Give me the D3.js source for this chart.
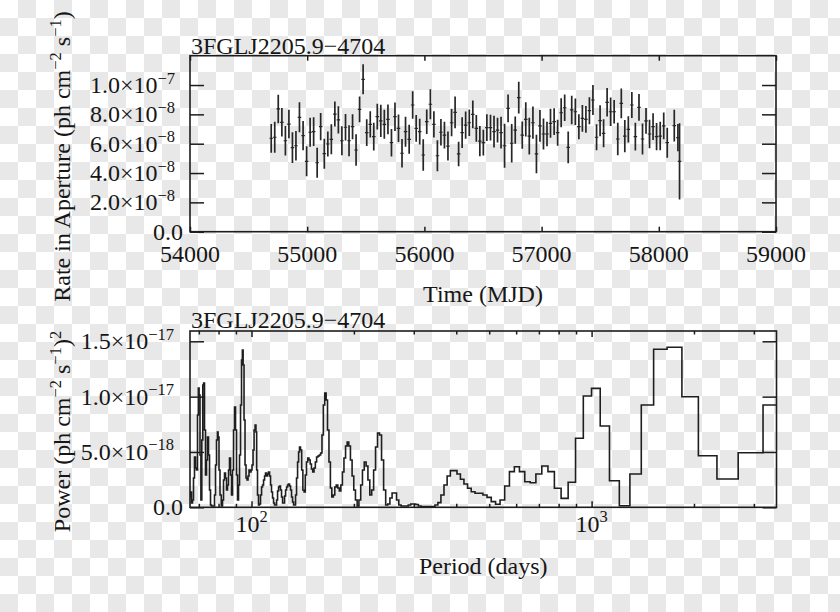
<!DOCTYPE html>
<html>
<head>
<meta charset="utf-8">
<script src="https://cdn.jsdelivr.net/npm/d3@7/dist/d3.min.js"></script>
<style>
html,body{margin:0;padding:0;background:#fff;}
svg text{font-family:"Liberation Serif","Times New Roman",Times,serif;fill:#161616;white-space:pre;}
</style>
</head>
<body>
<svg id="chart" width="840" height="612"></svg>
<script>
// ---------------- DATA ----------------
const sourceName = "3FGLJ2205.9\u22124704";

// Light curve: bin centre (MJD), rate (units of 1e-8 ph cm^-2 s^-1), 1-sigma error (same units)
const mjd = [54693,54723,54753,54784,54814,54844,54874,54904,54934,54965,54995,55025,55055,55085,55115,55146,55176,55206,55236,55266,55296,55327,55357,55387,55417,55447,55477,55508,55538,55568,55598,55628,55658,55689,55719,55749,55779,55809,55839,55870,55900,55930,55960,55990,56020,56051,56081,56111,56141,56171,56201,56232,56262,56292,56322,56352,56383,56413,56443,56473,56503,56533,56564,56594,56624,56654,56684,56714,56745,56775,56805,56835,56865,56895,56926,56956,56986,57016,57046,57076,57107,57137,57167,57197,57227,57257,57288,57318,57348,57378,57408,57438,57469,57499,57529,57559,57589,57619,57650,57680,57710,57740,57770,57800,57831,57861,57891,57921,57951,57981,58012,58042,58072,58132,58163,58177];
const rate = [6.37,6.44,8.37,7.46,6.20,7.34,5.73,5.86,7.80,6.55,
4.80,6.78,6.82,4.70,7.16,5.32,5.98,6.30,8.02,7.62,
6.20,7.12,6.20,7.16,5.57,8.34,10.39,6.75,7.32,6.48,
7.84,7.55,7.32,7.66,6.07,7.84,7.05,5.35,6.82,6.30,
8.64,7.05,6.82,5.23,7.50,8.69,7.32,5.18,6.78,6.59,
5.84,7.43,8.14,5.30,6.75,7.27,7.43,8.00,7.05,6.18,
6.07,7.09,7.09,6.82,6.93,6.75,5.86,8.41,6.03,6.93,
9.14,6.59,7.66,6.52,7.43,5.30,7.21,6.66,6.66,7.39,
7.50,6.75,8.11,8.45,5.75,8.30,8.18,7.16,7.73,7.66,
8.25,8.98,6.44,7.57,6.71,8.82,8.18,8.18,6.32,8.75,
6.52,6.98,8.64,6.48,8.48,6.32,7.55,6.66,7.16,6.48,
6.52,7.21,6.07,7.23,6.41,4.80];
const rateErr = [0.98,1.06,0.97,0.97,1.00,0.97,1.05,1.01,1.02,0.99,
1.02,0.99,0.98,1.03,0.93,1.02,0.85,1.02,0.85,0.93,
0.99,0.91,1.05,0.85,1.08,0.88,1.02,0.91,0.90,0.95,
0.88,1.10,0.99,1.01,0.94,0.97,0.94,0.97,1.02,0.99,
0.94,0.91,0.88,1.07,0.84,1.02,0.90,1.06,0.91,0.91,
0.99,0.93,1.08,0.83,1.05,0.93,0.91,0.95,0.91,1.03,
0.88,0.91,0.88,1.08,0.84,1.08,1.50,0.95,1.31,0.93,
1.08,0.93,1.17,1.25,1.10,1.31,1.08,1.05,0.83,0.99,
0.91,0.89,0.99,0.91,1.08,0.97,0.91,0.85,0.91,0.91,
0.92,1.02,0.89,1.06,0.95,0.97,0.97,0.80,1.10,1.02,
1.10,0.89,0.89,0.95,0.91,1.06,0.88,0.97,0.91,0.93,
0.97,0.91,1.02,1.08,0.93,2.60];
const binHalfWidth = 15; // days

// Periodogram: period (days) and power (units of 1e-18 (ph cm^-2 s^-1)^2)
const period = [65.94,66.39,66.84,67.29,67.75,68.21,68.67,69.14,69.61,69.94,70.32,70.80,71.18,71.67,72.16,72.50,72.99,73.49,73.99,74.49,75.00,75.51,76.02,76.54,77.06,77.58,78.11,78.64,79.17,79.55,79.98,80.52,81.07,81.90,82.46,83.02,83.58,84.15,84.72,85.30,85.88,86.46,87.05,87.64,88.24,88.84,89.44,90.05,90.66,91.28,91.90,92.52,93.15,93.78,94.23,94.74,95.39,96.03,96.69,97.34,98.00,98.67,99.34,100.0,100.7,101.4,102.1,102.8,103.3,103.8,104.5,105.2,105.9,106.7,107.4,108.1,108.9,109.6,110.3,111.1,111.8,112.6,113.4,114.1,114.9,115.7,116.5,117.3,118.1,118.9,119.7,120.5,121.3,122.1,123.0,123.8,124.7,125.5,126.4,127.2,128.1,128.9,129.8,130.7,131.6,132.5,133.4,134.3,135.2,136.1,137.1,138.0,
138.8,139.9,141.0,142.2,143.3,144.5,145.7,146.9,148.2,149.4,150.7,152.0,153.4,154.7,156.1,157.5,159.0,160.4,161.9,163.4,165.0,166.5,168.1,169.8,171.4,173.1,174.9,176.6,178.4,180.3,182.1,184.1,186.0,188.0,190.1,192.1,194.3,196.5,198.7,201.0,203.3,205.7,208.2,210.7,213.2,215.9,218.6,221.3,224.2,227.1,230.1,233.1,236.3,239.5,242.9,246.3,249.8,253.4,257.1,261.0,264.9,269.0,273.2,277.5,282.0,286.6,291.4,296.4,301.5,306.8,312.2,317.9,323.8,329.9,336.3,342.8,349.7,356.8,364.3,372.0,380.1,388.6,397.4,406.6,416.3,426.5,437.1,448.3,460.1,472.6,485.7,499.6,514.3,529.8,546.4,564.0,582.8,602.9,624.5,647.6,672.5,699.4,728.5,760.2,794.8,832.6,874.3,920.3,971.4,1028.5,1092.8,1165.7,1248.9,1345.0,1457.1,1589.5,1748.5,1942.8,2185.6,2497.9,2914.2,3497.0];
const power = [0.93,1.38,0.39,0.66,2.65,4.55,3.55,3.37,8.34,10.78,10.15,4.73,0.66,6.08,11.05,11.23,6.99,2.92,4.27,6.35,4.73,1.56,0.21,0.12,0.12,0.12,1.11,3.82,6.08,6.80,6.35,3.37,1.11,0.12,0.66,2.47,3.10,2.65,1.56,2.02,3.37,4.46,2.92,1.11,3.37,6.99,9.06,6.99,2.92,0.66,2.02,4.73,9.24,13.31,14.22,12.86,7.89,3.82,2.65,2.47,2.83,3.37,3.19,3.37,3.82,5.18,6.99,7.44,6.80,3.37,1.11,0.21,0.30,1.11,1.83,2.02,2.47,2.83,3.10,2.83,3.01,3.19,2.83,2.02,1.38,0.84,0.39,0.21,0.21,0.66,1.47,1.83,1.92,1.56,0.93,0.39,0.39,1.02,1.56,1.83,2.02,2.11,1.92,1.56,0.93,0.48,0.21,0.21,1.11,2.65,4.09,5.00,
5.45,5.18,3.37,1.56,1.38,2.92,4.09,4.46,4.27,3.91,3.46,3.19,3.55,4.09,4.55,4.64,4.73,4.91,6.53,9.24,10.33,9.70,6.99,4.09,1.74,0.93,1.11,1.83,2.02,1.74,1.47,2.02,3.19,4.46,5.54,5.90,5.54,4.27,2.83,1.56,0.66,0.12,0.66,2.02,3.37,4.09,3.73,2.47,1.11,1.56,3.37,5.45,6.71,6.53,4.27,1.56,0.21,0.30,0.84,1.29,1.29,0.66,0.21,0.12,0.12,0.12,0.21,0.30,0.30,0.25,0.12,0.07,0.07,0.07,0.07,0.07,0.21,0.42,1.11,2.02,2.83,3.31,3.31,3.01,2.53,2.11,1.72,1.41,1.27,1.27,1.11,0.90,0.51,0.27,0.66,1.92,3.22,3.67,3.22,2.31,2.22,3.01,3.73,3.22,1.72,0.81,2.26,6.24,10.06,10.75,7.35,2.40,0.14,3.01,9.24,14.28,14.46,9.99,4.66,2.56,4.93,9.24];

// Axis definitions
const mjdDomain = [54000, 59000];
const mjdTicks = [54000, 55000, 56000, 57000, 58000, 59000];
const rateDomain = [0, 12];            // x1e-8
const rateTicks = [0, 2, 4, 6, 8, 10];
const rateTickMant = ["0.0", "2.0\u00d710", "4.0\u00d710", "6.0\u00d710", "8.0\u00d710", "1.0\u00d710"];
const rateTickExp = ["", "\u22128", "\u22128", "\u22128", "\u22128", "\u22127"];
const periodDomain = [65.94, 3497];
const periodMajor = [100, 1000];
const periodMajorExp = ["2", "3"];
const periodMinor = [70, 80, 90, 200, 300, 400, 500, 600, 700, 800, 900, 2000, 3000];
const powerDomain = [0, 15.93];        // x1e-18
const powerTicks = [0, 5, 10, 15];
const powerTickMant = ["0.0", "5.0\u00d710", "1.0\u00d710", "1.5\u00d710"];
const powerTickExp = ["", "\u221218", "\u221217", "\u221217"];

// ---------------- DRAW ----------------
const W = 840, H = 612;
const ink = "#1c1c1c";
const FS = 24, SFS = 16.5, RAISE = 9.5;
const svg = d3.select("#chart");
const defs = svg.append("defs");
const pat = defs.append("pattern").attr("id", "checker").attr("width", 36).attr("height", 36)
  .attr("patternUnits", "userSpaceOnUse");
pat.append("rect").attr("width", 36).attr("height", 36).attr("fill", "#ffffff");
pat.append("rect").attr("x", 18).attr("y", 0).attr("width", 18).attr("height", 18).attr("fill", "#e8e8e8");
pat.append("rect").attr("x", 0).attr("y", 18).attr("width", 18).attr("height", 18).attr("fill", "#e8e8e8");
svg.append("rect").attr("width", W).attr("height", H).attr("fill", "url(#checker)");

const A = {l: 190, r: 776, t: 55.7, b: 231.7};
const B = {l: 190, r: 776.5, t: 331, b: 507.3};

const x1 = d3.scaleLinear().domain(mjdDomain).range([A.l, A.r]);
const y1 = d3.scaleLinear().domain(rateDomain).range([A.b, A.t]);
const x2 = d3.scaleLog().domain(periodDomain).range([B.l, B.r]);
const y2 = d3.scaleLinear().domain(powerDomain).range([B.b, B.t]);

function richText(g, x, y, parts, anchor, rotate) {
  const t = g.append("text").attr("text-anchor", anchor).attr("font-size", FS);
  if (rotate) t.attr("transform", `translate(${x},${y}) rotate(-90)`);
  else t.attr("x", x).attr("y", y);
  let shift = 0;
  parts.forEach(p => {
    if (!p[0]) return;
    const s = t.append("tspan").text(p[0]);
    const target = p[1] ? -RAISE : 0;
    if (target !== shift) { s.attr("dy", target - shift); shift = target; }
    if (p[1]) s.attr("font-size", SFS);
  });
  return t;
}

function styleAxis(g) {
  g.select(".domain").remove();
  g.selectAll(".tick line").attr("stroke", ink).attr("stroke-width", 1.5);
}

// ---- Top panel ----
const gA = svg.append("g");
defs.append("clipPath").attr("id", "clipA").append("rect")
  .attr("x", A.l).attr("y", A.t).attr("width", A.r - A.l).attr("height", A.b - A.t);

const pts = mjd.map((t, i) => ({t: t, v: rate[i], e: rateErr[i]}));
const gPts = gA.append("g").attr("clip-path", "url(#clipA)").attr("stroke", "#262626");
gPts.selectAll("line.ey").data(pts).join("line").attr("class", "ey")
  .attr("x1", d => x1(d.t)).attr("x2", d => x1(d.t))
  .attr("y1", d => y1(d.v - d.e)).attr("y2", d => y1(d.v + d.e))
  .attr("stroke-width", 1.7);
gPts.selectAll("line.ex").data(pts).join("line").attr("class", "ex")
  .attr("x1", d => x1(d.t - binHalfWidth)).attr("x2", d => x1(d.t + binHalfWidth))
  .attr("y1", d => y1(d.v)).attr("y2", d => y1(d.v))
  .attr("stroke-width", 1.2);

gA.append("g").attr("transform", `translate(0,${A.b})`)
  .call(d3.axisBottom(x1).tickValues(mjdTicks).tickSize(-5).tickFormat("")).call(styleAxis);
gA.append("g").attr("transform", `translate(0,${A.t})`)
  .call(d3.axisTop(x1).tickValues(mjdTicks).tickSize(-5).tickFormat("")).call(styleAxis);
gA.append("g").attr("transform", `translate(${A.l},0)`)
  .call(d3.axisLeft(y1).tickValues(rateTicks).tickSize(-14).tickFormat("")).call(styleAxis);
gA.append("g").attr("transform", `translate(${A.r},0)`)
  .call(d3.axisRight(y1).tickValues(rateTicks).tickSize(-14).tickFormat("")).call(styleAxis);
gA.append("rect").attr("x", A.l).attr("y", A.t).attr("width", A.r - A.l).attr("height", A.b - A.t)
  .attr("fill", "none").attr("stroke", ink).attr("stroke-width", 1.6);

rateTicks.forEach((v, i) => {
  const hasExp = rateTickExp[i] !== "";
  richText(gA, hasExp ? 175 : 183, y1(v) + 8, [[rateTickMant[i], false], [rateTickExp[i], true]], "end", false);
});
mjdTicks.forEach(v => {
  gA.append("text").attr("x", x1(v)).attr("y", 261.5).attr("text-anchor", "middle").attr("font-size", FS).text(v);
});
gA.append("text").attr("x", 191).attr("y", 54).attr("font-size", FS).text(sourceName);
gA.append("text").attr("x", (A.l + A.r) / 2).attr("y", 301.5).attr("text-anchor", "middle").attr("font-size", FS).text("Time (MJD)");
richText(gA, 70, 156.5, [["Rate in Aperture (ph cm", false], ["\u22122", true], [" s", false], ["\u22121", true], [")", false]], "middle", true);

// ---- Bottom panel ----
const gB = svg.append("g");
defs.append("clipPath").attr("id", "clipB").append("rect")
  .attr("x", B.l).attr("y", B.t - 1).attr("width", B.r - B.l).attr("height", B.b - B.t + 2);

const spec = period.map((p, i) => ({p: p, w: power[i]}));
const line = d3.line().x(d => x2(d.p)).y(d => y2(d.w)).curve(d3.curveStep);
gB.append("path").attr("clip-path", "url(#clipB)").datum(spec).attr("d", line)
  .attr("fill", "none").attr("stroke", "#1e1e1e").attr("stroke-width", 1.6).attr("stroke-linejoin", "miter");

gB.append("g").attr("transform", `translate(0,${B.b})`)
  .call(d3.axisBottom(x2).tickValues(periodMajor).tickSize(-6).tickFormat("")).call(styleAxis);
gB.append("g").attr("transform", `translate(0,${B.b})`)
  .call(d3.axisBottom(x2).tickValues(periodMinor).tickSize(-3.5).tickFormat("")).call(styleAxis);
gB.append("g").attr("transform", `translate(0,${B.t})`)
  .call(d3.axisTop(x2).tickValues(periodMajor).tickSize(-6).tickFormat("")).call(styleAxis);
gB.append("g").attr("transform", `translate(0,${B.t})`)
  .call(d3.axisTop(x2).tickValues(periodMinor).tickSize(-3.5).tickFormat("")).call(styleAxis);
gB.append("g").attr("transform", `translate(${B.l},0)`)
  .call(d3.axisLeft(y2).tickValues(powerTicks).tickSize(-14).tickFormat("")).call(styleAxis);
gB.append("g").attr("transform", `translate(${B.r},0)`)
  .call(d3.axisRight(y2).tickValues(powerTicks).tickSize(-14).tickFormat("")).call(styleAxis);
gB.append("rect").attr("x", B.l).attr("y", B.t).attr("width", B.r - B.l).attr("height", B.b - B.t)
  .attr("fill", "none").attr("stroke", ink).attr("stroke-width", 1.6);

powerTicks.forEach((v, i) => {
  const hasExp = powerTickExp[i] !== "";
  richText(gB, hasExp ? 174 : 183, y2(v) + 8, [[powerTickMant[i], false], [powerTickExp[i], true]], "end", false);
});
periodMajor.forEach((v, i) => {
  richText(gB, x2(v), 531.5, [["10", false], [periodMajorExp[i], true]], "middle", false);
});
gB.append("text").attr("x", 191).attr("y", 328.3).attr("font-size", FS).text(sourceName);
gB.append("text").attr("x", (B.l + B.r) / 2).attr("y", 574).attr("text-anchor", "middle").attr("font-size", FS).text("Period (days)");
richText(gB, 70, 431.5, [["Power (ph cm", false], ["\u22122", true], [" s", false], ["\u22121", true], [")", false], ["2", true]], "middle", true);
</script>
</body>
</html>
